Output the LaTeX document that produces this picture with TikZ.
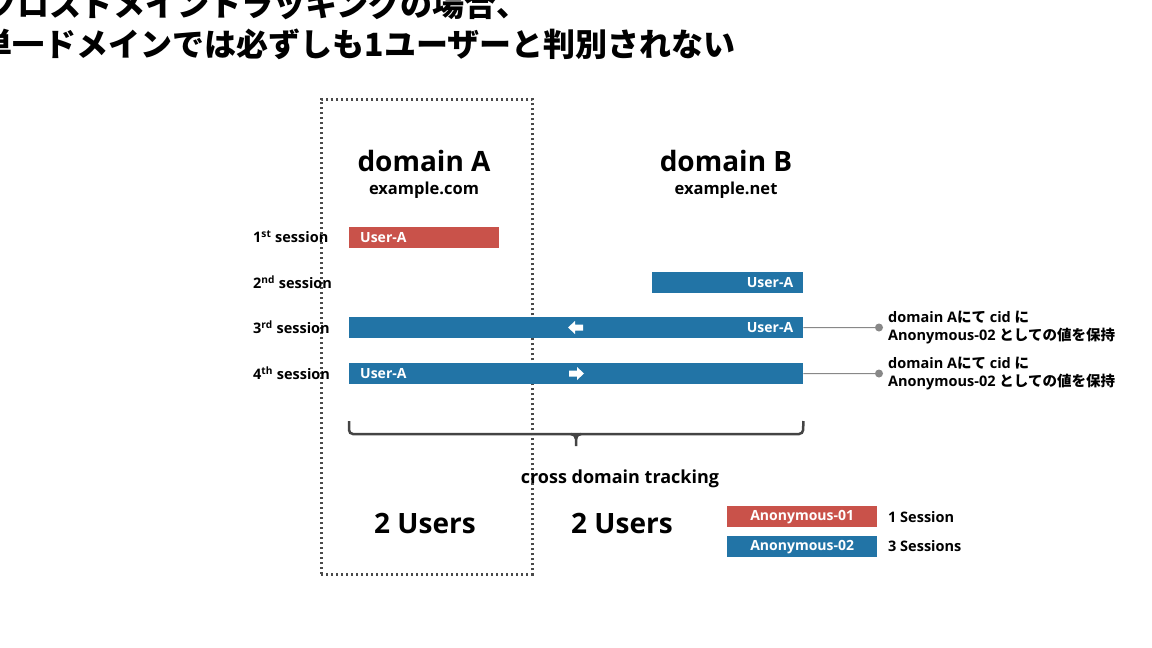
\documentclass[tikz,border=0pt]{standalone}
\usepackage{fontspec}
\setmainfont{Open Sans}[BoldFont={Open Sans Bold}]
\newfontfamily\jp{Noto Sans CJK JP}
\newcommand\J[1]{{\jp #1}}
\definecolor{bred}{HTML}{C9524A}
\definecolor{bblue}{HTML}{2274A6}
\definecolor{dgray}{HTML}{444444}
\definecolor{dotgray}{HTML}{4A4A4A}
\definecolor{lgray}{HTML}{888888}
\begin{document}
\begin{tikzpicture}[x=1pt,y=-1pt,
  bar/.style={draw=none,inner sep=0pt,minimum height=21pt,anchor=north west},
  bartext/.style={text=white,font=\bfseries\fontsize{14}{16}\selectfont,inner sep=0pt},
  sess/.style={anchor=west,inner sep=0pt,font=\bfseries\fontsize{14.5}{16}\selectfont},
  note/.style={anchor=west,inner sep=0pt,align=left,font=\bfseries\fontsize{14.5}{18}\selectfont},
  big/.style={inner sep=0pt,font=\bfseries\fontsize{28}{32}\selectfont},
  sub/.style={inner sep=0pt,font=\bfseries\fontsize{16.5}{20}\selectfont},
  ttl/.style={inner sep=0pt,font=\jp\bfseries\fontsize{32}{36}\selectfont},
  conn/.style={draw=lgray,line width=1pt},
  brace/.style={draw=dgray,line width=2.5pt,rounded corners=4pt},
  frame/.style={draw=dotgray,line width=2.5pt,dash pattern=on 2.2pt off 2.8pt}
]
\useasboundingbox (0,0) rectangle (1152,648);
\clip (0,0) rectangle (1152,648);
\fill[white] (0,0) rectangle (1152,648);

% title
\node[ttl,anchor=base west] (t1) at (-15,16) {クロスドメイントラッキングの場合、};
\node[ttl,anchor=base east] (t2) at (736,56) {単一ドメインでは必ずしも1ユーザーと判別されない};

% dotted frame
\node[frame,inner sep=0pt,minimum width=211pt,minimum height=475pt,anchor=north west] (fr) at (320,98) {};

% domain headings
\node[big] (da) at (424,161) {domain A};
\node[sub] (ea) at (424,190) {example.com};
\node[big] (db) at (726,161) {domain B};
\node[sub] (eb) at (726,190) {example.net};

% session labels
\node[sess] (s1) at (253,237) {1\textsuperscript{st} session};
\node[sess] (s2) at (253,282) {2\textsuperscript{nd} session};
\node[sess] (s3) at (253,327) {3\textsuperscript{rd} session};
\node[sess] (s4) at (253,373) {4\textsuperscript{th} session};

% bars
\node[bar,fill=bred,minimum width=150pt] (b1) at (349,227) {};
\node[bartext,anchor=west] (b1t) at ([xshift=11pt]b1.west) {User-A};
\node[bar,fill=bblue,minimum width=151pt] (b2) at (652,272) {};
\node[bartext,anchor=east] (b2t) at ([xshift=-10pt]b2.east) {User-A};
\node[bar,fill=bblue,minimum width=454pt] (b3) at (349,317) {};
\node[bartext,anchor=east] (b3t) at ([xshift=-10pt]b3.east) {User-A};
\node[bar,fill=bblue,minimum width=454pt] (b4) at (349,363) {};
\node[bartext,anchor=west] (b4t) at ([xshift=11pt]b4.west) {User-A};

% arrows in bars
\coordinate (a3) at (576,327.5);
\fill[white] (a3) ++(-8,0) -- ++(7,-6.5) -- ++(0,3.5) -- ++(8,0) -- ++(0,6) -- ++(-8,0) -- ++(0,3.5) -- cycle;
\coordinate (a4) at (576,373.5);
\fill[white] (a4) ++(8,0) -- ++(-7,-6.5) -- ++(0,3.5) -- ++(-8,0) -- ++(0,6) -- ++(8,0) -- ++(0,3.5) -- cycle;

% connectors and notes
\coordinate (d3) at (879,327.5);
\coordinate (d4) at (879,373.5);
\draw[conn] (b3.east) -- (d3);
\draw[conn] (b4.east) -- (d4);
\fill[lgray] (d3) circle (4);
\fill[lgray] (d4) circle (4);
\node[note] (n3) at (888,327.5) {domain A\J{にて} cid \J{に}\\Anonymous-02 \J{としての値を保持}};
\node[note] (n4) at (888,373.5) {domain A\J{にて} cid \J{に}\\Anonymous-02 \J{としての値を保持}};

% brace
\coordinate (bl) at (b4.south west |- 0,421);
\coordinate (br) at (b4.south east |- 0,421);
\draw[brace] (bl) -- (349,434) -- (803,434) -- (br);
\draw[dgray,line width=2.5pt] (571,434) to[out=0,in=90] (576,439) -- (576,446);
\draw[dgray,line width=2.5pt] (581,434) to[out=180,in=90] (576,439);

\node[inner sep=0pt,font=\bfseries\fontsize{18}{20}\selectfont] (cdt) at (620,479) {cross domain tracking};
\node[big] (u1) at (425,523) {2 Users};
\node[big] (u2) at (622,523) {2 Users};

% legend
\node[bar,fill=bred,minimum width=150pt] (l1) at (727,506) {};
\node[bartext] at (l1.center) {Anonymous-01};
\node[bar,fill=bblue,minimum width=150pt] (l2) at (727,536) {};
\node[bartext] at (l2.center) {Anonymous-02};
\node[sess] (l1t) at (888,517) {1 Session};
\node[sess] (l2t) at (888,546) {3 Sessions};
\end{tikzpicture}
\end{document}
